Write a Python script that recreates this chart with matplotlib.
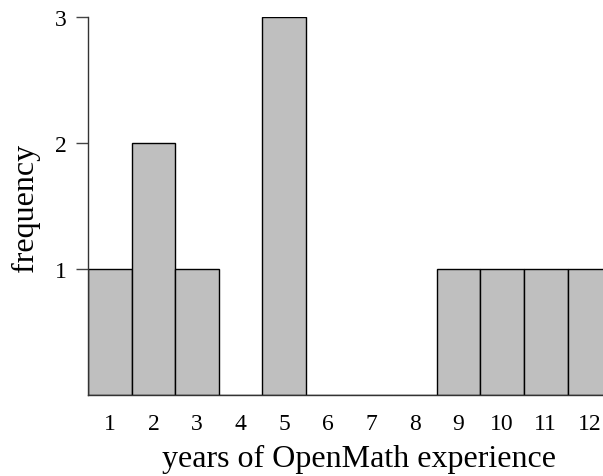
import matplotlib
matplotlib.use("Agg")
import matplotlib.pyplot as plt

years = [1, 2, 3, 4, 5, 6, 7, 8, 9, 10, 11, 12]
frequency = [1, 2, 1, 0, 3, 0, 0, 0, 1, 1, 1, 1]
y_ticks = [1, 2, 3]

plt.rcParams["font.family"] = ["Liberation Serif", "DejaVu Serif"]

W, H = 603, 477
PT = 72 / 100  # points per pixel at dpi 100
fig = plt.figure(figsize=(W / 100, H / 100), dpi=100)
# bar width in pixels ~43.6; the last bar runs past the right edge
bw = 43.6
left, bottom, top = 88, 396, 18
ax = fig.add_axes([left / W, 1 - bottom / H, 12 * bw / W, (bottom - top) / H])

ax.bar(years, frequency, width=1.0, color="#bfbfbf", edgecolor="black",
       linewidth=1.0, zorder=2)
ax.set_xlim(0.5, 12.5)
ax.set_ylim(0, 3)

for side in ("top", "right"):
    ax.spines[side].set_visible(False)
for side in ("left", "bottom"):
    ax.spines[side].set_color("#333333")
    ax.spines[side].set_linewidth(1.0)

ax.set_yticks(y_ticks)
ax.set_yticklabels([str(v) for v in y_ticks], fontsize=17)
ax.tick_params(axis="y", length=12 * PT, width=1.0, color="#444444", pad=9 * PT)
ax.set_xticks(years)
ax.set_xticklabels([str(v) for v in years], fontsize=17)
ax.tick_params(axis="x", length=0, pad=18 * PT)

fig.text(359 / W, 1 - 467 / H, "years of OpenMath experience", fontsize=23,
         ha="center", va="baseline")
fig.text(33 / W, 1 - 208 / H, "frequency", fontsize=23, rotation=90,
         rotation_mode="anchor", ha="center", va="baseline")

fig.savefig("out.png", dpi=100)
